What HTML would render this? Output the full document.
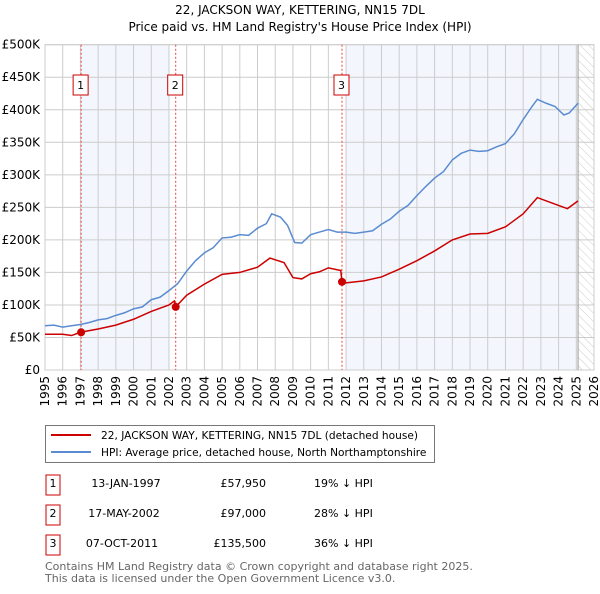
<!DOCTYPE html>
<html><head><meta charset="utf-8"><style>
body{margin:0;background:#fff;font-family:"DejaVu Sans","Liberation Sans",sans-serif;}
svg text{font-family:"DejaVu Sans","Liberation Sans",sans-serif;}
</style></head><body>
<svg id="c" width="600" height="590" xmlns="http://www.w3.org/2000/svg">
<defs><pattern id="hatch" width="6" height="6" patternUnits="userSpaceOnUse" patternTransform="rotate(-45)"><line x1="0" y1="0" x2="0" y2="6" stroke="#ccc" stroke-width="1"/></pattern></defs>
<text x="300" y="14" text-anchor="middle" font-size="12">22, JACKSON WAY, KETTERING, NN15 7DL</text>
<text x="300" y="31" text-anchor="middle" font-size="12">Price paid vs. HM Land Registry's House Price Index (HPI)</text>
<g id="plot"></g>
<g>
<rect x="45.5" y="425.5" width="389" height="37" fill="#fff" stroke="#777"/>
<line x1="51" y1="435" x2="91" y2="435" stroke="#cc0000" stroke-width="2"/>
<text x="101" y="439" font-size="10.6">22, JACKSON WAY, KETTERING, NN15 7DL (detached house)</text>
<line x1="51" y1="452" x2="91" y2="452" stroke="#5b8bd0" stroke-width="2"/>
<text x="101" y="456" font-size="10.6">HPI: Average price, detached house, North Northamptonshire</text>
</g>
<g font-size="11">
<rect x="46" y="475" width="14" height="20" fill="#fff" stroke="#cc0000"/><text x="53" y="487" text-anchor="middle">1</text>
<text x="126" y="487" text-anchor="middle">13-JAN-1997</text><text x="266" y="487" text-anchor="end">£57,950</text><text x="314" y="487">19% ↓ HPI</text>
<rect x="46" y="505" width="14" height="20" fill="#fff" stroke="#cc0000"/><text x="53" y="517" text-anchor="middle">2</text>
<text x="124" y="517" text-anchor="middle">17-MAY-2002</text><text x="266" y="517" text-anchor="end">£97,000</text><text x="314" y="517">28% ↓ HPI</text>
<rect x="46" y="535" width="14" height="20" fill="#fff" stroke="#cc0000"/><text x="53" y="547" text-anchor="middle">3</text>
<text x="122" y="547" text-anchor="middle">07-OCT-2011</text><text x="266" y="547" text-anchor="end">£135,500</text><text x="314" y="547">36% ↓ HPI</text>
</g>
<text x="45" y="570" font-size="11" fill="#666">Contains HM Land Registry data © Crown copyright and database right 2025.</text>
<text x="45" y="582" font-size="11" fill="#666">This data is licensed under the Open Government Licence v3.0.</text>
</svg>
<script>
const hpiYears=[1995,1995.5,1996,1996.5,1997,1997.5,1998,1998.5,1999,1999.5,2000,2000.5,2001,2001.5,2002,2002.5,2003,2003.5,2004,2004.5,2005,2005.5,2006,2006.5,2007,2007.5,2007.8,2008.3,2008.7,2009.1,2009.5,2010,2010.5,2011,2011.5,2012,2012.5,2013,2013.5,2014,2014.5,2015,2015.5,2016,2016.5,2017,2017.5,2018,2018.5,2019,2019.5,2020,2020.5,2021,2021.5,2022,2022.5,2022.8,2023.3,2023.8,2024.3,2024.6,2025.1];
const hpiValues=[68,69,66,68,70,73,77,79,84,88,94,97,108,112,122,133,152,168,180,188,203,204,208,207,218,225,240,235,222,196,195,208,212,216,212,212,210,212,214,224,232,244,253,268,282,295,305,323,333,338,336,337,343,348,363,385,405,416,410,405,392,395,410];
const priceYears=[1995,1996,1996.5,1997,1998,1999,2000,2001,2002,2002.3,2002.38,2003,2004,2005,2006,2007,2007.7,2008.5,2009,2009.5,2010,2010.5,2011,2011.7,2011.77,2012,2013,2014,2015,2016,2017,2018,2019,2020,2021,2022,2022.8,2023.5,2024.5,2025.1];
const priceValues=[55,55,53,58,63,69,78,90,100,106,97,115,132,147,150,158,172,165,142,140,148,151,157,153,135.5,134,137,143,155,168,183,200,209,210,220,240,265,258,248,260];
const saleYears=[1997.04,2002.38,2011.77];
const saleValues=[57.95,97,135.5];
const saleLabels=["1","2","3"];
const yTicks=[0,50,100,150,200,250,300,350,400,450,500];
const yTickLabels=["£0","£50K","£100K","£150K","£200K","£250K","£300K","£350K","£400K","£450K","£500K"];
const xTicks=[1995,1996,1997,1998,1999,2000,2001,2002,2003,2004,2005,2006,2007,2008,2009,2010,2011,2012,2013,2014,2015,2016,2017,2018,2019,2020,2021,2022,2023,2024,2025,2026];
const L=45,R=594,T=44.7,B=370,x0=1995,x1=2026,ymax=500;
const X=v=>L+(v-x0)/(x1-x0)*(R-L);
const Y=v=>B-v/ymax*(B-T);
const NS="http://www.w3.org/2000/svg";
const g=document.getElementById('plot');
function el(t,a,p){const e=document.createElementNS(NS,t);for(const k in a)e.setAttribute(k,a[k]);(p||g).appendChild(e);return e;}
let r=el('rect',{x:X(1997.04),y:T,width:X(2002)-X(1997.04),height:B-T,fill:'#eef3fc',opacity:0.7});


r=el('rect',{x:X(2012),y:T,width:X(2025.1)-X(2012),height:B-T,fill:'#eef3fc',opacity:0.7});


r=el('rect',{x:X(2025.1),y:T,width:R-X(2025.1),height:B-T,fill:'url(#hatch)'});


yTicks.forEach((v,i)=>{
 const l=el('line',{x1:L,x2:R,y1:Y(v),y2:Y(v),stroke:'#ccc'});
 
 
 const t=el('text',{x:L-5,y:Y(v)+4,'text-anchor':'end','font-size':12});
 
 
 t.textContent=yTickLabels[i];
});
xTicks.forEach(v=>{
 const l=el('line',{x1:X(v),x2:X(v),y1:T,y2:B,stroke:'#ccc'});
 
 
 const t=el('text',{x:0,y:0,'text-anchor':'end','font-size':12,transform:`translate(${X(v)+4},${B+6}) rotate(-90)`});
 
 
 t.textContent=v;
});
const fr=el('rect',{x:L,y:T,width:R-L,height:B-T,fill:'none',stroke:'#ccc'});


const nl=el('line',{x1:X(2025.1),x2:X(2025.1),y1:T,y2:B,stroke:'#999'});


saleYears.forEach((v,i)=>{
 const l=el('line',{x1:X(v),x2:X(v),y1:T,y2:B,stroke:'#ee4444','stroke-dasharray':'2,2'});
 
 
 const b=el('rect',{x:X(v)-8,y:75,width:15,height:20,fill:'#fff',stroke:'#cc0000'});
 
 
 const t=el('text',{x:X(v)-0.5,y:89,'text-anchor':'middle','font-size':11});
 
 
 t.textContent=saleLabels[i];
});
let p=el('polyline',{points:hpiYears.map((v,i)=>X(v)+','+Y(hpiValues[i])).join(' '),fill:'none',stroke:'#5b8bd0','stroke-width':1.5});


p=el('polyline',{points:priceYears.map((v,i)=>X(v)+','+Y(priceValues[i])).join(' '),fill:'none',stroke:'#cc0000','stroke-width':1.5});


saleYears.forEach((v,i)=>{
 const c=el('circle',{cx:X(v),cy:Y(saleValues[i]),r:4,fill:'#cc0000'});
 
 
});
</script>
</body></html>
